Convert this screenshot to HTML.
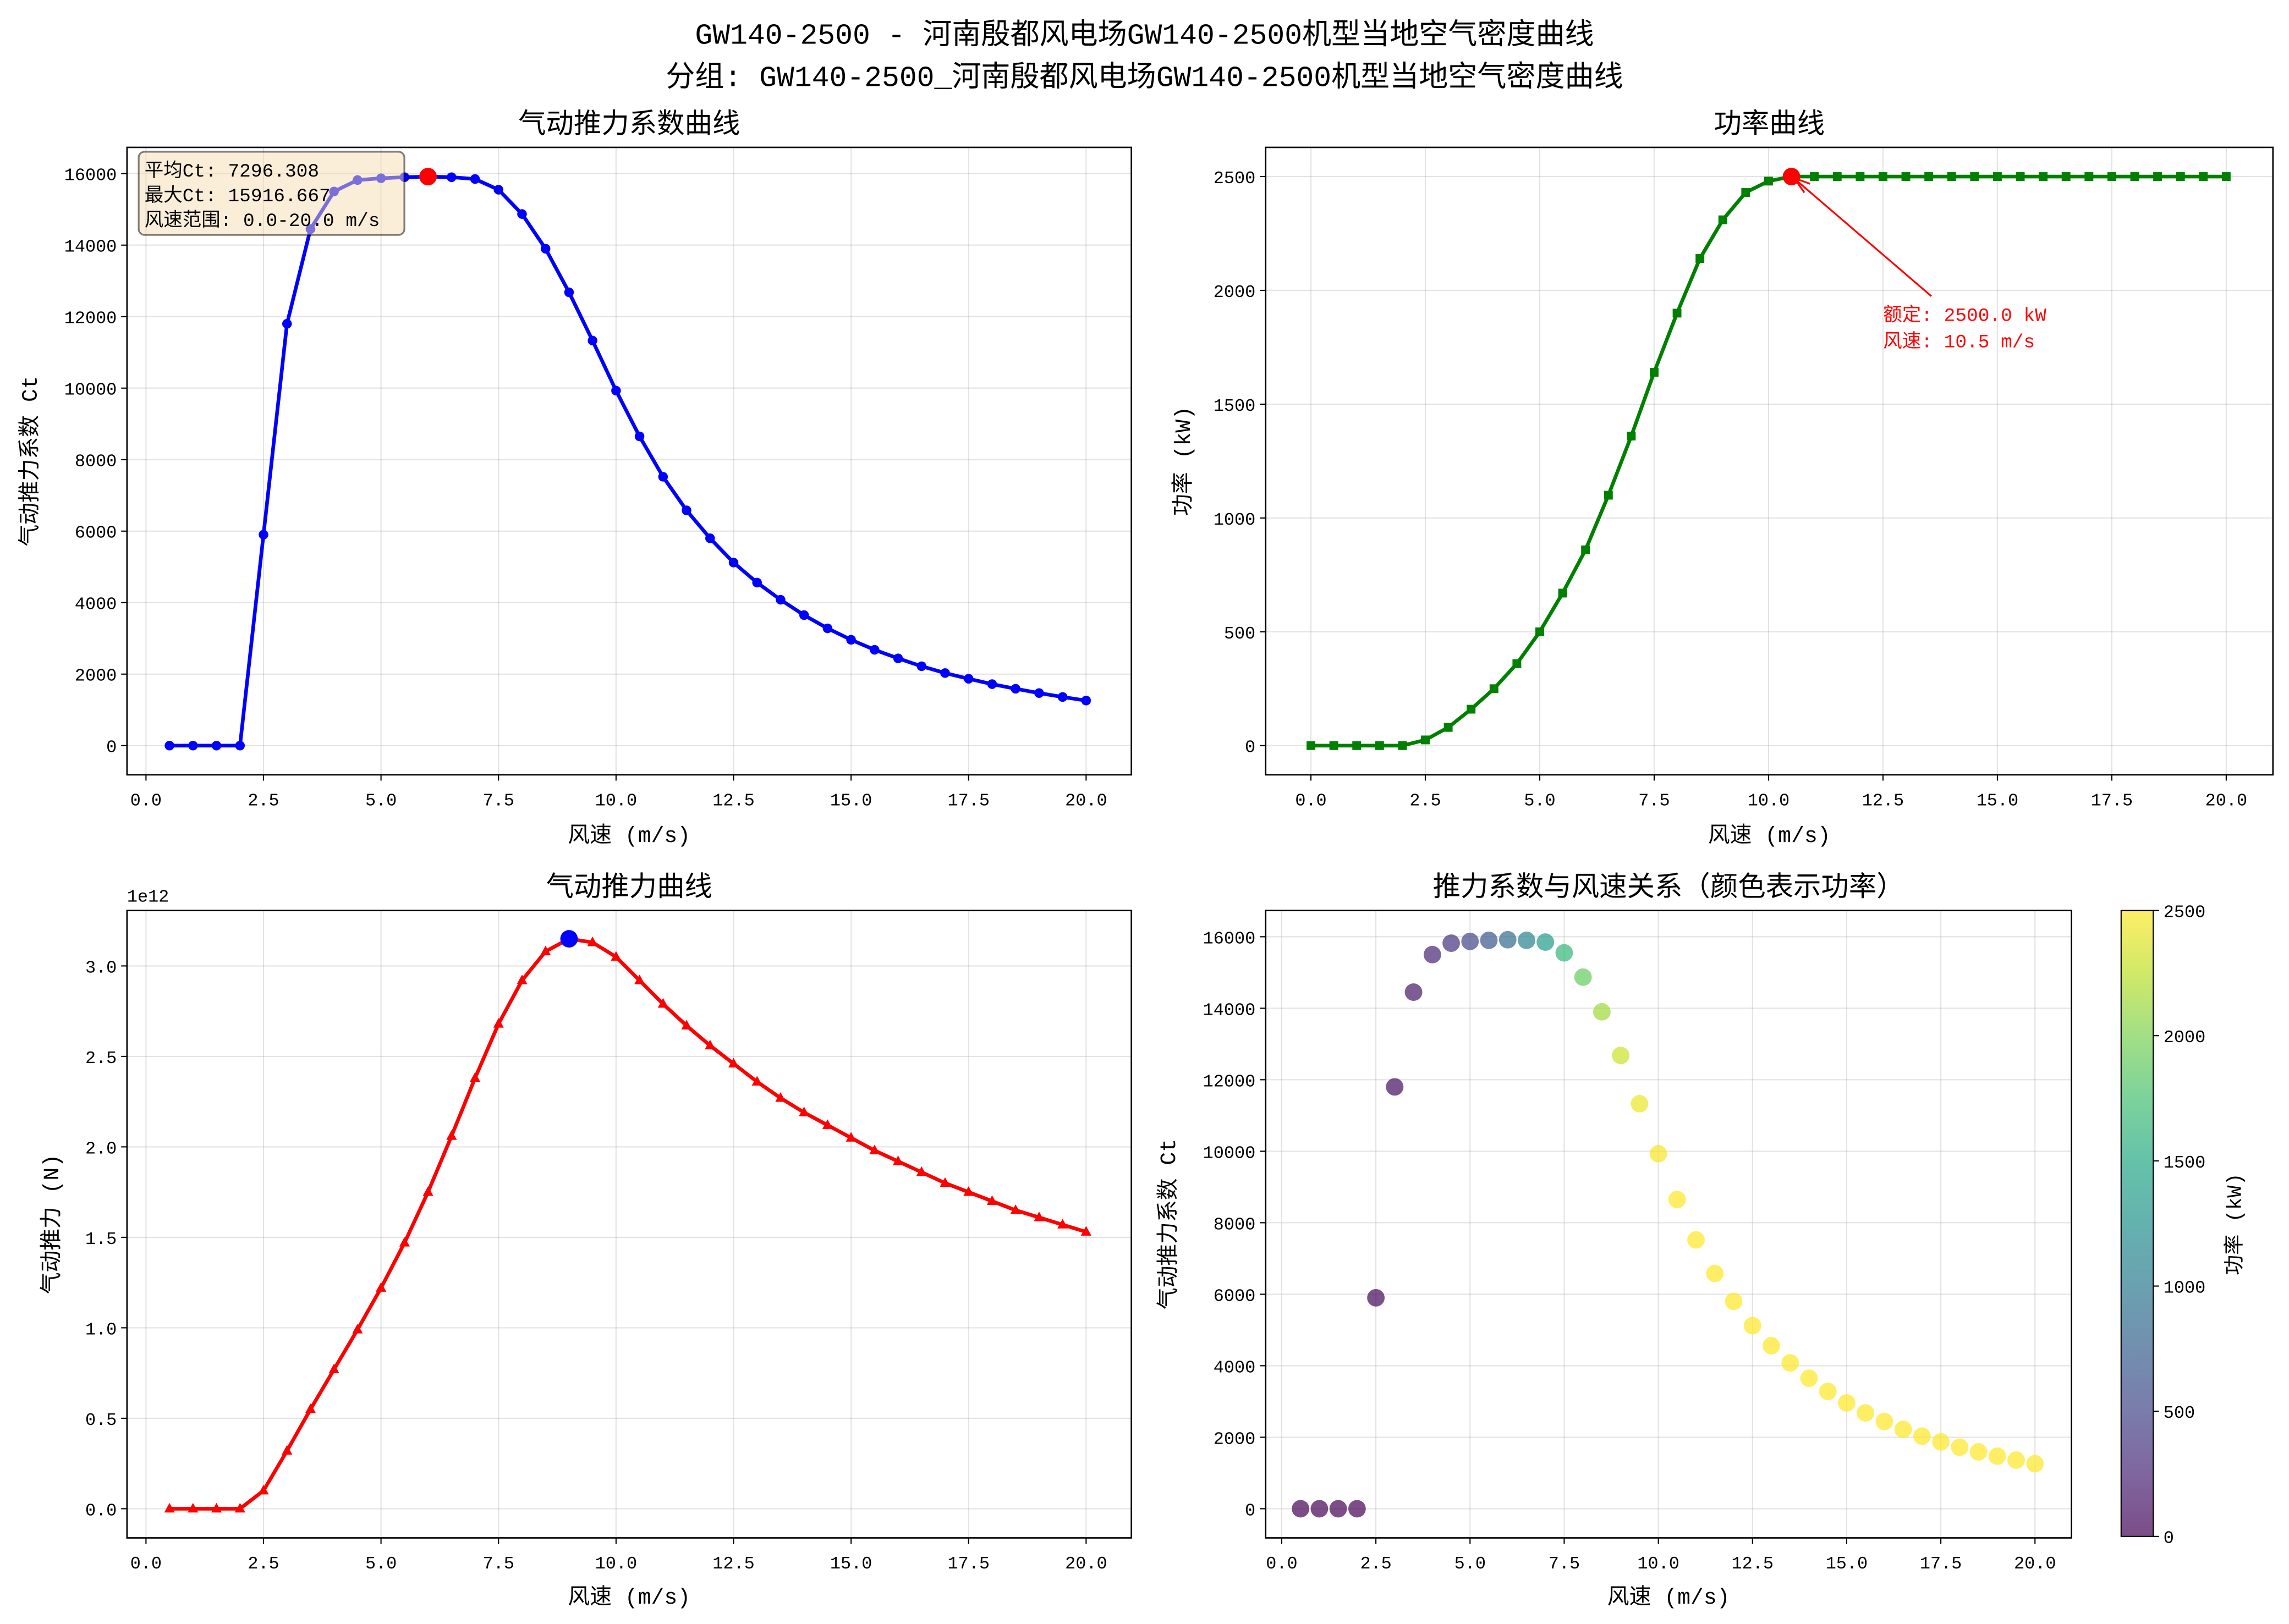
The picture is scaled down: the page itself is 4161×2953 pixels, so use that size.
<!DOCTYPE html>
<html><head><meta charset="utf-8"><style>
html,body{margin:0;padding:0;background:#fff;}
svg{display:block;}
text{font-family:"Liberation Mono","Noto Sans CJK SC",monospace;fill:#000;}
</style></head><body>
<svg id="s" xmlns="http://www.w3.org/2000/svg" width="4161" height="2953" viewBox="0 0 1568 1113" preserveAspectRatio="none">
<rect width="1568" height="1113" fill="#fff"/>
<text x="784" y="30" font-size="20" text-anchor="middle">GW140-2500 - 河南殷都风电场GW140-2500机型当地空气密度曲线</text>
<text x="784" y="59" font-size="20" text-anchor="middle">分组: GW140-2500_河南殷都风电场GW140-2500机型当地空气密度曲线</text>
<text x="431" y="91" font-size="19" text-anchor="middle">气动推力系数曲线</text>
<text x="1212" y="91" font-size="19" text-anchor="middle">功率曲线</text>
<text x="431" y="614" font-size="19" text-anchor="middle">气动推力曲线</text>
<text x="1143" y="614" font-size="19" text-anchor="middle">推力系数与风速关系（颜色表示功率）</text>
<text x="431" y="577" font-size="15" text-anchor="middle">风速 (m/s)</text>
<text x="1212" y="577" font-size="15" text-anchor="middle">风速 (m/s)</text>
<text x="431" y="1099" font-size="15" text-anchor="middle">风速 (m/s)</text>
<text x="1143" y="1099" font-size="15" text-anchor="middle">风速 (m/s)</text>
<text transform="translate(25,316) rotate(-90)" font-size="15" text-anchor="middle">气动推力系数 Ct</text>
<text transform="translate(815,316) rotate(-90)" font-size="15" text-anchor="middle">功率 (kW)</text>
<text transform="translate(40,839) rotate(-90)" font-size="15" text-anchor="middle">气动推力 (N)</text>
<text transform="translate(805,839) rotate(-90)" font-size="15" text-anchor="middle">气动推力系数 Ct</text>
<text transform="translate(1535,839) rotate(-90)" font-size="14" text-anchor="middle">功率 (kW)</text>
<text x="87" y="618" font-size="12">1e12</text>
<g id="g"></g>
<rect x="95" y="104" width="182" height="57" rx="4" fill="#f5deb3" fill-opacity="0.5" stroke="#000" stroke-opacity="0.5" stroke-width="1.2"/>
<text x="99" y="121" font-size="13">平均Ct: 7296.308</text>
<text x="99" y="138" font-size="13">最大Ct: 15916.667</text>
<text x="99" y="155" font-size="13">风速范围: 0.0-20.0 m/s</text>
<line x1="1323" y1="203" x2="1231" y2="124" stroke="red" stroke-width="1.2"/>
<polyline points="1236,132 1229,122 1240,126" fill="none" stroke="red" stroke-width="1.2"/>
<text x="1290" y="220" font-size="13" fill="red" style="fill:red">额定: 2500.0 kW</text>
<text x="1290" y="238" font-size="13" fill="red" style="fill:red">风速: 10.5 m/s</text>
</svg>
<script>
var NS="http://www.w3.org/2000/svg",G=document.getElementById('g'),h='';
var ct=[0,0,0,0,5900,11800,14450,15500,15820,15870,15900,15917,15900,15850,15550,14870,13900,12680,11330,9930,8650,7520,6580,5800,5120,4560,4080,3650,3280,2960,2680,2440,2220,2030,1870,1720,1590,1470,1360,1260];
var pw=[0,0,0,0,0,25,80,160,250,360,500,670,860,1100,1360,1640,1900,2140,2310,2430,2480];
while(pw.length<41)pw.push(2500);
var th=[0,0,0,0,0.1,0.32,0.55,0.77,0.99,1.22,1.47,1.75,2.06,2.38,2.68,2.92,3.08,3.15,3.13,3.05,2.92,2.79,2.67,2.56,2.46,2.36,2.27,2.19,2.12,2.05,1.98,1.92,1.86,1.80,1.75,1.70,1.65,1.61,1.57,1.53];
function f(v,d){return v.toFixed(d);}
function axes(x0,x1,y0,y1,xm,ym,xt,yt,xd,yd){
 var s='';
 xt.forEach(function(v){var x=xm(v);s+='<line x1="'+x+'" y1="'+y0+'" x2="'+x+'" y2="'+y1+'" stroke="#b0b0b0" stroke-opacity="0.35" stroke-width="0.8"/>';
  s+='<line x1="'+x+'" y1="'+y1+'" x2="'+x+'" y2="'+(y1+4)+'" stroke="#000" stroke-width="0.8"/>';
  s+='<text x="'+x+'" y="'+(y1+21)+'" font-size="12" text-anchor="middle">'+f(v,xd)+'</text>';});
 yt.forEach(function(v){var y=ym(v);s+='<line x1="'+x0+'" y1="'+y+'" x2="'+x1+'" y2="'+y+'" stroke="#b0b0b0" stroke-opacity="0.35" stroke-width="0.8"/>';
  s+='<line x1="'+(x0-4)+'" y1="'+y+'" x2="'+x0+'" y2="'+y+'" stroke="#000" stroke-width="0.8"/>';
  s+='<text x="'+(x0-7)+'" y="'+(y+4.5)+'" font-size="12" text-anchor="end">'+f(v,yd)+'</text>';});
 s+='<rect x="'+x0+'" y="'+y0+'" width="'+(x1-x0)+'" height="'+(y1-y0)+'" fill="none" stroke="#000" stroke-width="1"/>';
 return s;}
var xt=[0,2.5,5,7.5,10,12.5,15,17.5,20];
var xa=function(v){return 100+v*32.2;};
var ya=function(v){return 511-v*0.0245;};
h+=axes(87,775,101,531,xa,ya,xt,[0,2000,4000,6000,8000,10000,12000,14000,16000],1,0);
var p=ct.map(function(v,i){return xa(0.5+i*0.5)+','+ya(v);}).join(' ');
h+='<polyline points="'+p+'" fill="none" stroke="blue" stroke-width="2.5"/>';
ct.forEach(function(v,i){h+='<circle cx="'+xa(0.5+i*0.5)+'" cy="'+ya(v)+'" r="3.3" fill="blue"/>';});
h+='<circle cx="'+xa(6)+'" cy="'+ya(15917)+'" r="6" fill="red"/>';
var xb=function(v){return 898+v*31.35;},yb=function(v){return 511-v*0.156;};
h+=axes(867,1557,101,531,xb,yb,xt,[0,500,1000,1500,2000,2500],1,0);
p=pw.map(function(v,i){return xb(i*0.5)+','+yb(v);}).join(' ');
h+='<polyline points="'+p+'" fill="none" stroke="green" stroke-width="2.5"/>';
pw.forEach(function(v,i){h+='<rect x="'+(xb(i*0.5)-3)+'" y="'+(yb(v)-3)+'" width="6" height="6" fill="green"/>';});
h+='<circle cx="'+xb(10.5)+'" cy="'+yb(2500)+'" r="6" fill="red"/>';
var yc=function(v){return 1034-v*124;};
h+=axes(87,775,624,1054,xa,yc,xt,[0,0.5,1,1.5,2,2.5,3],1,1);
p=th.map(function(v,i){return xa(0.5+i*0.5)+','+yc(v);}).join(' ');
h+='<polyline points="'+p+'" fill="none" stroke="red" stroke-width="2.5"/>';
th.forEach(function(v,i){var x=xa(0.5+i*0.5),y=yc(v);h+='<polygon points="'+x+','+(y-4)+' '+(x-3.6)+','+(y+2.6)+' '+(x+3.6)+','+(y+2.6)+'" fill="red"/>';});
h+='<circle cx="'+xa(9)+'" cy="'+yc(3.15)+'" r="6" fill="blue"/>';
var xd=function(v){return 878+v*25.8;},yd=function(v){return 1034-v*0.0245;};
h+=axes(867,1419,624,1054,xd,yd,xt,[0,2000,4000,6000,8000,10000,12000,14000,16000],1,0);
var vs=['#440154','#482475','#414487','#355f8d','#2a788e','#21918c','#22a884','#44bf70','#7ad151','#bddf26','#fde725'];
function hx(c){return [parseInt(c.substr(1,2),16),parseInt(c.substr(3,2),16),parseInt(c.substr(5,2),16)];}
function vir(t){t=Math.max(0,Math.min(1,t))*10;var i=Math.min(9,Math.floor(t)),r=t-i,a=hx(vs[i]),b=hx(vs[i+1]);
 return 'rgb('+a.map(function(c,k){return Math.round(c+(b[k]-c)*r);}).join(',')+')';}
ct.forEach(function(v,i){h+='<circle cx="'+xd(0.5+i*0.5)+'" cy="'+yd(v)+'" r="6" fill="'+vir(pw[i+1]/2500)+'" fill-opacity="0.7"/>';});
h+='<defs><linearGradient id="cb" x1="0" y1="1" x2="0" y2="0">';
vs.forEach(function(c,i){h+='<stop offset="'+(i/10)+'" stop-color="'+c+'" stop-opacity="0.7"/>';});
h+='</linearGradient></defs><rect x="1453" y="624" width="22" height="429" fill="url(#cb)" stroke="#000" stroke-width="0.8"/>';
[0,500,1000,1500,2000,2500].forEach(function(v){var y=1053-v*429/2500;h+='<line x1="1475" y1="'+y+'" x2="1479" y2="'+y+'" stroke="#000" stroke-width="0.8"/><text x="1482" y="'+(y+4.5)+'" font-size="12">'+v+'</text>';});
G.innerHTML=h;
</script>
</body></html>
